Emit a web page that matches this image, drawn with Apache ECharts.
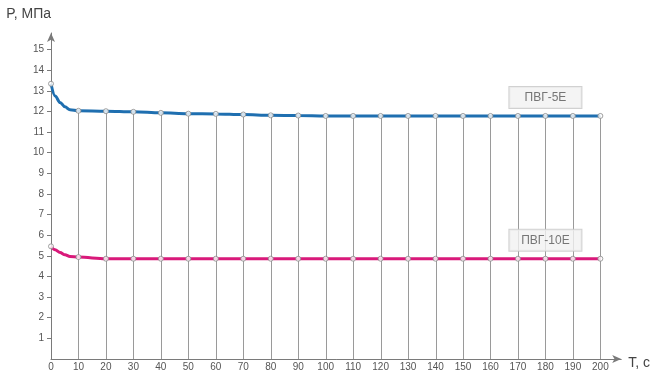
<!DOCTYPE html>
<html>
<head>
<meta charset="utf-8">
<script src="https://cdn.jsdelivr.net/npm/echarts@6/dist/echarts.min.js"></script>
<style>
  html, body { margin: 0; padding: 0; background: #fff; }
  #chart { width: 653px; height: 375px; }
</style>
</head>
<body>
<div id="chart"></div>
<script>
// Time points (s) where the pressure was measured
const timePoints = [0, 10, 20, 30, 40, 50, 60, 70, 80, 90, 100, 110, 120, 130, 140, 150, 160, 170, 180, 190, 200];
// Pressure, MPa, for the ПВГ-5Е pump
const pvg5 = [13.34, 12.03, 12.01, 11.98, 11.93, 11.89, 11.88, 11.85, 11.81, 11.80, 11.78, 11.78, 11.78, 11.78, 11.78, 11.78, 11.78, 11.78, 11.78, 11.78, 11.78];
// Pressure, MPa, for the ПВГ-10Е pump
const pvg10 = [5.46, 4.94, 4.86, 4.86, 4.86, 4.86, 4.86, 4.86, 4.86, 4.86, 4.86, 4.86, 4.86, 4.86, 4.86, 4.86, 4.86, 4.86, 4.86, 4.86, 4.86];
// Extra readings along the fast initial drop (between 0 and 10 s)
const startTimes = [1.5, 3.3, 5.1, 6.9];
const pvg5Start = [12.75, 12.43, 12.22, 12.08];
const pvg10Start = [5.29, 5.16, 5.05, 4.97];
// Axis tick labels
const xTicks = [0, 10, 20, 30, 40, 50, 60, 70, 80, 90, 100, 110, 120, 130, 140, 150, 160, 170, 180, 190, 200];
const yTicks = [1, 2, 3, 4, 5, 6, 7, 8, 9, 10, 11, 12, 13, 14, 15];
const seriesNames = ['ПВГ-5Е', 'ПВГ-10Е'];

function curve(main, start) {
  const pts = timePoints.map((t, i) => [t, main[i]]);
  start.forEach((v, i) => pts.push([startTimes[i], v]));
  return pts.sort((a, b) => a[0] - b[0]);
}

const labelIndex = timePoints.indexOf(180);
function points(vals, name) {
  return timePoints.map((t, i) => {
    const item = { value: [t, vals[i]] };
    if (i === labelIndex) {
      item.label = {
        show: true,
        position: 'top',
        distance: 5,
        formatter: name,
        color: '#555',
        fontSize: 12,
        fontFamily: 'Liberation Sans, Arial, sans-serif',
        backgroundColor: '#f1f1f1',
        borderColor: '#c6c6c6',
        borderWidth: 1,
        width: 72,
        align: 'center',
        lineHeight: 13,
        padding: [4, 0]
      };
    }
    return item;
  });
}

const axisColor = '#7a7a7a';
const font = 'Liberation Sans, Arial, sans-serif';

const chart = echarts.init(document.getElementById('chart'), null, { renderer: 'canvas' });
chart.setOption({
  animation: false,
  backgroundColor: '#fff',
  grid: { left: 51, right: 31, top: 33, bottom: 16, containLabel: false },
  xAxis: {
    type: 'value',
    min: 0,
    max: 207.6,
    name: 'T, c',
    nameLocation: 'end',
    nameGap: 7,
    nameTextStyle: { color: '#444', fontSize: 14, fontFamily: font, align: 'left', verticalAlign: 'top', padding: [-3, 0, 0, 0] },
    axisLine: { show: true, lineStyle: { color: axisColor, width: 1 }, symbol: ['none', 'arrow'], symbolSize: [6, 9] },
    axisTick: { show: false },
    splitLine: { show: false },
    axisLabel: { customValues: xTicks, color: '#555', fontSize: 10, fontFamily: font, margin: 3 }
  },
  yAxis: {
    type: 'value',
    min: 0,
    max: 15.8,
    name: 'P, МПа',
    nameLocation: 'end',
    nameGap: 12,
    nameTextStyle: { color: '#444', fontSize: 14, fontFamily: font, align: 'right' },
    axisLine: { show: true, lineStyle: { color: axisColor, width: 1 }, symbol: ['none', 'arrow'], symbolSize: [6, 9] },
    axisTick: { show: true, customValues: yTicks, length: 4, lineStyle: { color: axisColor } },
    splitLine: { show: false },
    axisLabel: { customValues: yTicks, color: '#555', fontSize: 10, fontFamily: font, margin: 7 }
  },
  series: [
    {
      // vertical guide lines from the time axis up to the ПВГ-5Е curve
      type: 'custom',
      z: 1,
      silent: true,
      data: timePoints.map((t, i) => [t, pvg5[i]]).filter(d => d[0] > 0),
      renderItem: function (params, api) {
        const p0 = api.coord([api.value(0), 0]);
        const p1 = api.coord([api.value(0), api.value(1)]);
        return {
          type: 'line',
          shape: { x1: Math.round(p0[0]) + 0.5, y1: p0[1], x2: Math.round(p1[0]) + 0.5, y2: p1[1] },
          style: { stroke: '#9a9a9a', lineWidth: 1 }
        };
      }
    },
    {
      name: seriesNames[0],
      type: 'line',
      z: 3,
      smooth: 0.35,
      smoothMonotone: 'x',
      showSymbol: false,
      data: curve(pvg5, pvg5Start),
      lineStyle: { color: '#1f6fb0', width: 3 },
      silent: true
    },
    {
      name: seriesNames[1],
      type: 'line',
      z: 3,
      smooth: 0.35,
      smoothMonotone: 'x',
      showSymbol: false,
      data: curve(pvg10, pvg10Start),
      lineStyle: { color: '#d9197a', width: 3 },
      silent: true
    },
    {
      type: 'scatter',
      z: 4,
      symbol: 'circle',
      symbolSize: 5,
      itemStyle: { color: '#fff', borderColor: '#8a8a8a', borderWidth: 1 },
      data: points(pvg5, seriesNames[0])
    },
    {
      type: 'scatter',
      z: 4,
      symbol: 'circle',
      symbolSize: 5,
      itemStyle: { color: '#fff', borderColor: '#8a8a8a', borderWidth: 1 },
      data: points(pvg10, seriesNames[1])
    }
  ]
});
</script>
</body>
</html>
